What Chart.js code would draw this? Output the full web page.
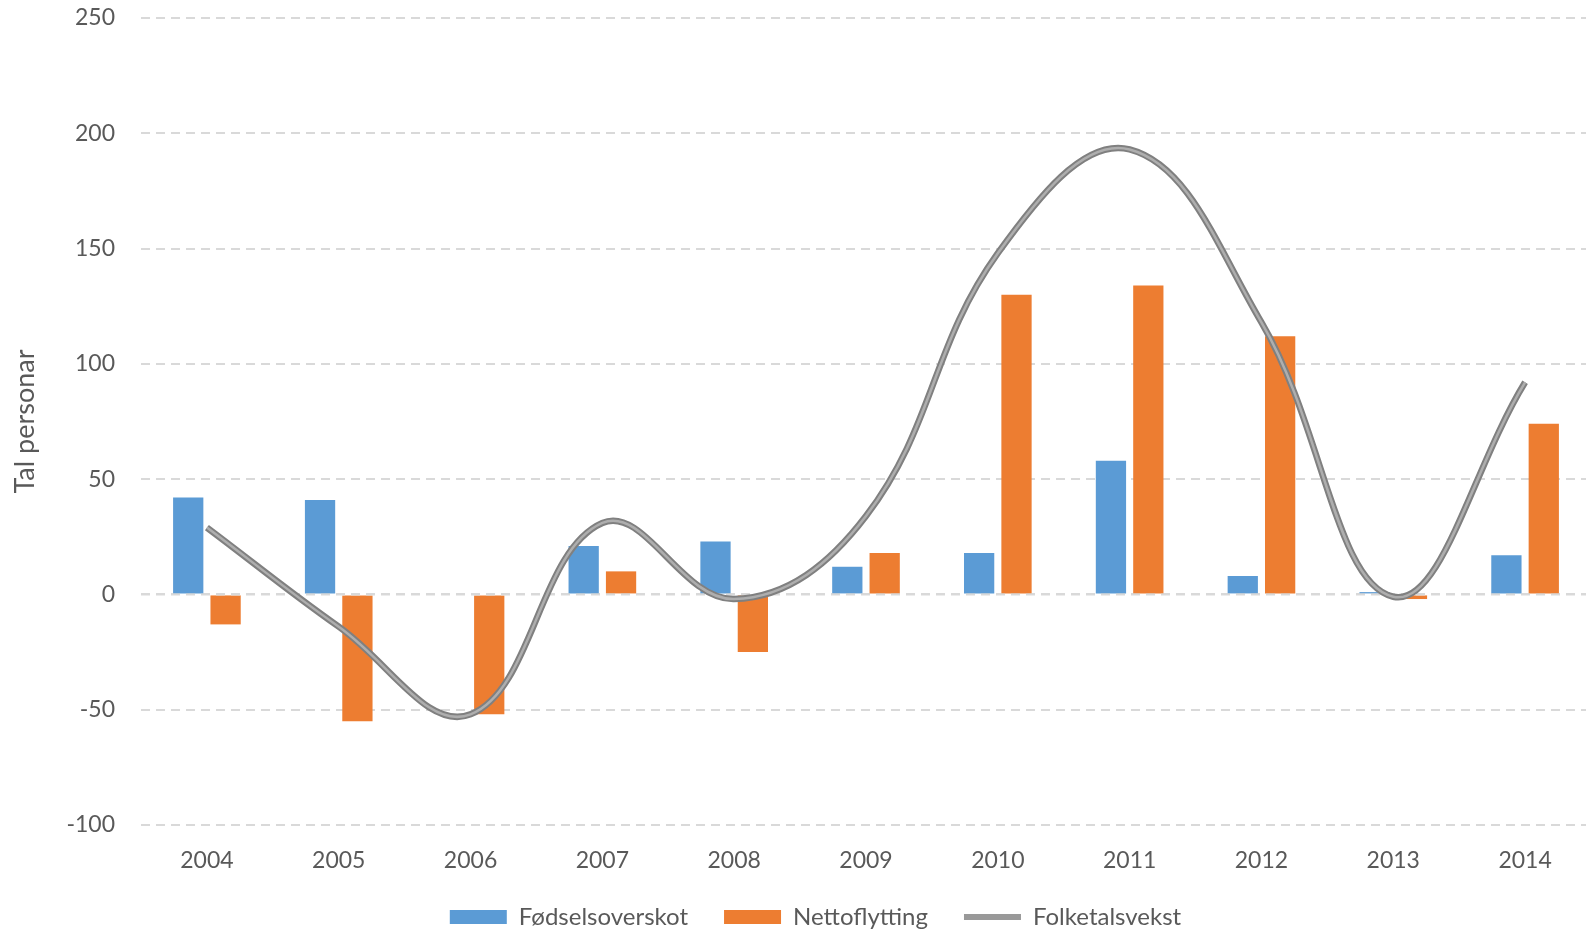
<!DOCTYPE html>
<html>
<head>
<meta charset="utf-8">
<script src="https://cdn.jsdelivr.net/npm/chart.js@4.4.0/dist/chart.umd.min.js"></script>
<style>
  html, body { margin: 0; padding: 0; background: #fff; overflow: hidden; }
  #wrap { width: 1592px; height: 931px; }
</style>
</head>
<body>
<div id="wrap"><canvas id="chart"></canvas></div>
<script>
// Data
const years = ['2004', '2005', '2006', '2007', '2008', '2009', '2010', '2011', '2012', '2013', '2014'];
const fodselsoverskot = [42, 41, 0, 21, 23, 12, 18, 58, 8, 1, 17];
const nettoflytting = [-13, -55, -52, 10, -25, 18, 130, 134, 112, -2, 74];
const folketalsvekst = [29, -14, -52, 31, -2, 34, 148, 193, 118, -1, 92];
const yTicks = [-100, -50, 0, 50, 100, 150, 200, 250];

const textColor = '#595959';
const fontFamily = 'Lato, "Open Sans", sans-serif';

const excelLook = {
    id: 'excelLook',
    beforeLayout(chart) {
        // legend box kept short so the x labels have room, moved down after layout
        const legend = chart.legend;
        if (legend && !legend._patched) {
            const fit = legend.fit;
            legend.fit = function () {
                fit.call(this);
                this.height = 38;
            };
            legend._patched = true;
        }
    },
    afterLayout(chart) {
        const legend = chart.legend;
        legend.top = chart.height - 62;
        legend.bottom = legend.top + 62;
        legend.left += 20;
        legend.right += 20;
    },
    // zero line on top of the bars, under the line
    beforeDatasetDraw(chart, args) {
        if (args.index !== 0) return;
        const y = chart.scales.y.getPixelForValue(0);
        const ctx = chart.ctx;
        ctx.save();
        ctx.strokeStyle = '#d9d9d9';
        ctx.lineWidth = 2;
        ctx.setLineDash([9, 6]);
        ctx.beginPath();
        ctx.moveTo(chart.chartArea.left, y);
        ctx.lineTo(chart.chartArea.right, y);
        ctx.stroke();
        ctx.restore();
    }
};

const ctx = document.getElementById('chart').getContext('2d');
new Chart(ctx, {
    type: 'bar',
    data: {
        labels: years,
        datasets: [
            {
                type: 'line',
                label: 'Folketalsvekst',
                data: folketalsvekst,
                borderColor: '#808080',
                borderWidth: 6.5,
                pointRadius: 0,
                tension: 0.4,
                fill: false,
                order: 1
            },
            {
                type: 'line',
                label: '_inner',
                data: folketalsvekst,
                borderColor: '#aeaeae',
                borderWidth: 2.5,
                pointRadius: 0,
                tension: 0.4,
                fill: false,
                order: 0
            },
            {
                label: 'Fødselsoverskot',
                data: fodselsoverskot,
                backgroundColor: '#5b9bd5',
                categoryPercentage: 0.567,
                barPercentage: 0.81,
                order: 2
            },
            {
                label: 'Nettoflytting',
                data: nettoflytting,
                backgroundColor: '#ed7d31',
                categoryPercentage: 0.567,
                barPercentage: 0.81,
                order: 3
            }
        ]
    },
    options: {
        responsive: true,
        maintainAspectRatio: false,
        animation: false,
        layout: { padding: { top: 18, right: 1, bottom: 0, left: 0 } },
        plugins: {
            tooltip: { enabled: false },
            legend: {
                position: 'bottom',
                labels: {
                    color: textColor,
                    font: { family: fontFamily, size: 24 },
                    usePointStyle: true,
                    pointStyleWidth: 57,
                    boxHeight: 14,
                    padding: 36,
                    generateLabels(chart) {
                        const ds = chart.data.datasets;
                        return [
                            { text: ds[2].label, fillStyle: ds[2].backgroundColor, strokeStyle: ds[2].backgroundColor, lineWidth: 0, pointStyle: 'rect', datasetIndex: 2, fontColor: textColor },
                            { text: ds[3].label, fillStyle: ds[3].backgroundColor, strokeStyle: ds[3].backgroundColor, lineWidth: 0, pointStyle: 'rect', datasetIndex: 3, fontColor: textColor },
                            { text: ds[0].label, fillStyle: '#9a9a9a', strokeStyle: '#999999', lineWidth: 6, pointStyle: 'line', datasetIndex: 0, fontColor: textColor }
                        ];
                    }
                }
            }
        },
        scales: {
            x: {
                grid: { display: false },
                border: { display: false },
                ticks: {
                    color: textColor,
                    font: { family: fontFamily, size: 23 },
                    padding: 14
                },
                afterFit(scale) { scale.height = 68; }
            },
            y: {
                min: -100,
                max: 250,
                afterBuildTicks(scale) { scale.ticks = yTicks.map(v => ({ value: v })); },
                grid: {
                    color: '#d9d9d9',
                    lineWidth: 2,
                    drawTicks: false
                },
                border: { display: false, dash: [9, 6] },
                ticks: {
                    color: textColor,
                    font: { family: fontFamily, size: 23 },
                    padding: 26
                },
                title: {
                    display: true,
                    text: 'Tal personar',
                    color: textColor,
                    font: { family: fontFamily, size: 27 },
                    padding: { top: 9, bottom: 0 }
                },
                afterFit(scale) {
                    scale.width = 141;
                    scale.paddingTop = 10;
                    scale.paddingBottom = 10;
                }
            }
        }
    },
    plugins: [excelLook]
});
</script>
</body>
</html>
